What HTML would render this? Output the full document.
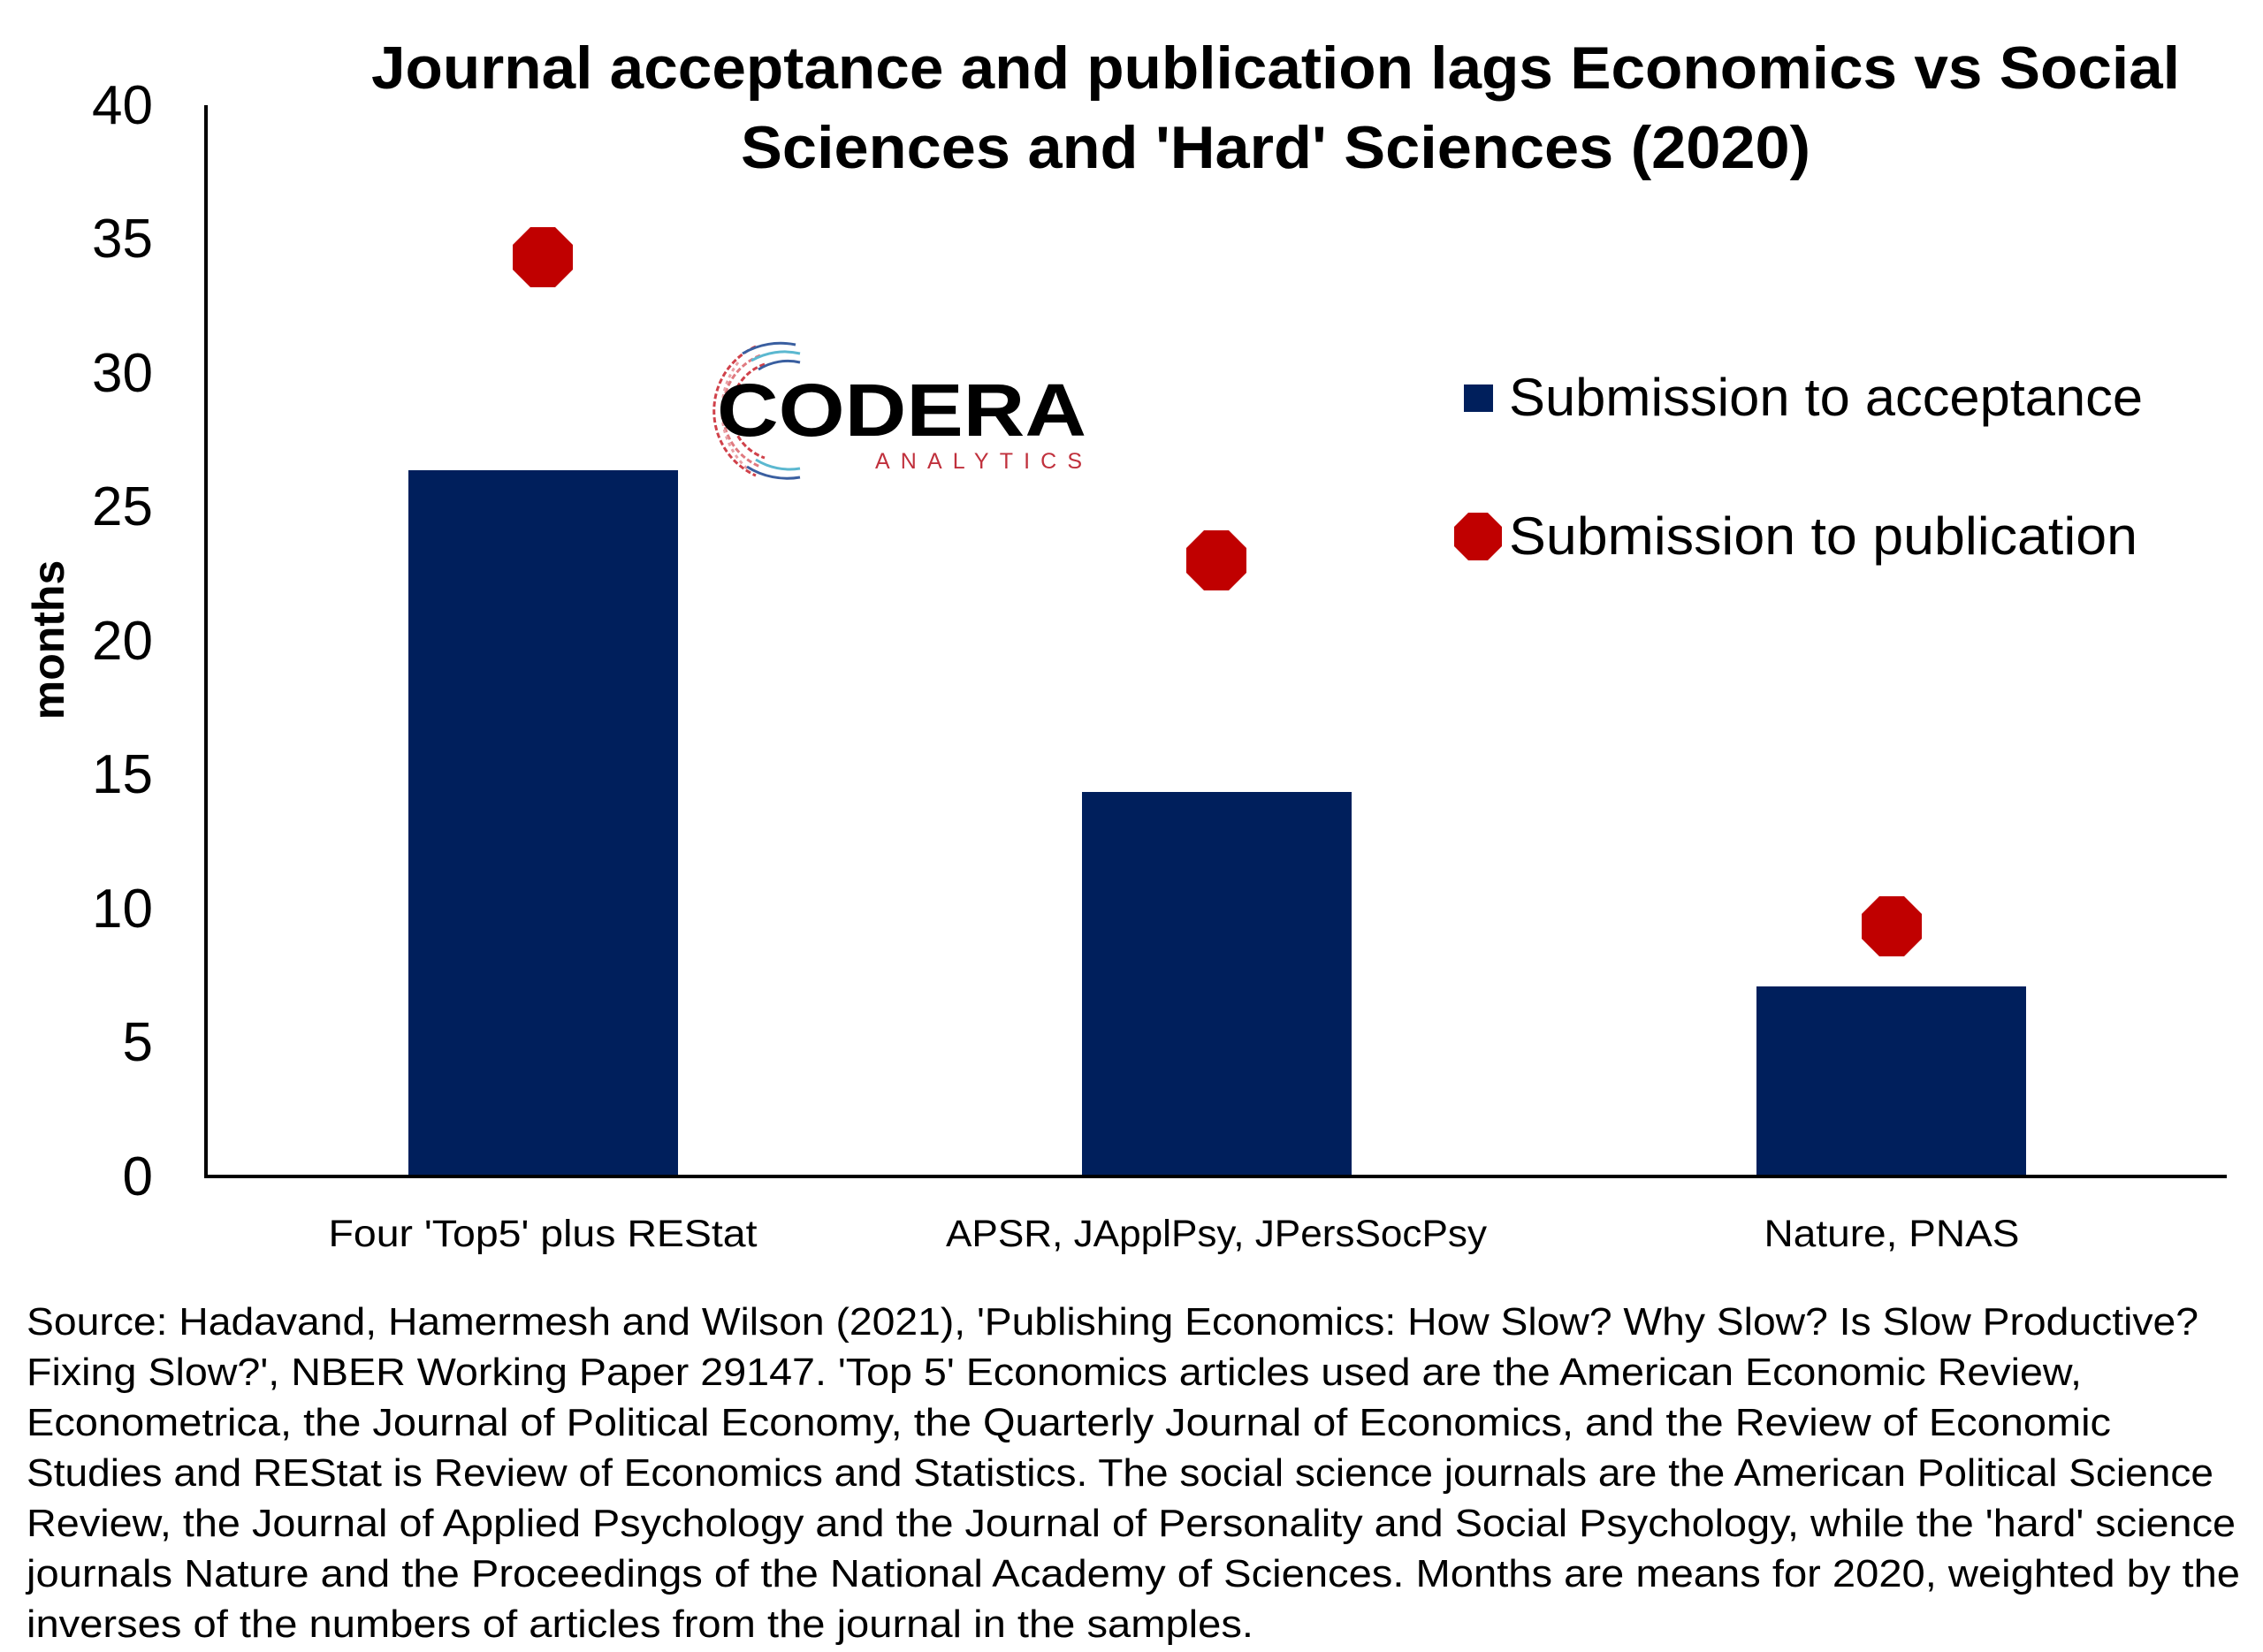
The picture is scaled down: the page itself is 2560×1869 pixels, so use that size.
<!DOCTYPE html>
<html><head><meta charset="utf-8"><style>
html,body{margin:0;padding:0;background:#fff;}
svg{display:block;font-family:"Liberation Sans",sans-serif;}
</style></head><body>
<svg width="2560" height="1869" viewBox="0 0 2560 1869" xmlns="http://www.w3.org/2000/svg">
<rect width="2560" height="1869" fill="#fff"/>
<g font-weight="bold" font-size="68" fill="#000" text-anchor="middle">
<text x="1443" y="100" textLength="2046" lengthAdjust="spacingAndGlyphs">Journal acceptance and publication lags Economics vs Social</text>
<text x="1443" y="190" textLength="1210" lengthAdjust="spacingAndGlyphs">Sciences and 'Hard' Sciences (2020)</text>
</g>
<g font-size="62" fill="#000" text-anchor="end">
<text x="173" y="140">40</text>
<text x="173" y="291">35</text>
<text x="173" y="443">30</text>
<text x="173" y="594">25</text>
<text x="173" y="746">20</text>
<text x="173" y="897">15</text>
<text x="173" y="1049">10</text>
<text x="173" y="1200">5</text>
<text x="173" y="1352">0</text>
</g>
<text transform="translate(72,724) rotate(-90)" font-size="50" font-weight="bold" text-anchor="middle">months</text>
<g fill="#001f5c">
<rect x="462" y="532" width="305" height="799"/>
<rect x="1224" y="896" width="305" height="435"/>
<rect x="1987" y="1116" width="305" height="215"/>
</g>
<line x1="233" y1="119" x2="233" y2="1333" stroke="#000" stroke-width="4"/>
<line x1="231" y1="1331" x2="2519" y2="1331" stroke="#000" stroke-width="4"/>
<g fill="#c00000">
<polygon points="600,257 628,257 648,277 648,305 628,325 600,325 580,305 580,277"/>
<polygon points="1362,600 1390,600 1410,620 1410,648 1390,668 1362,668 1342,648 1342,620"/>
<polygon points="2126,1014 2154,1014 2174,1034 2174,1062 2154,1082 2126,1082 2106,1062 2106,1034"/>
<polygon points="1661,580 1683,580 1699,596 1699,618 1683,634 1661,634 1645,618 1645,596"/>
</g>
<g font-size="43" fill="#000" text-anchor="middle">
<text x="614" y="1410" textLength="485" lengthAdjust="spacingAndGlyphs">Four 'Top5' plus REStat</text>
<text x="1376" y="1410" textLength="612" lengthAdjust="spacingAndGlyphs">APSR, JApplPsy, JPersSocPsy</text>
<text x="2140" y="1410" textLength="289" lengthAdjust="spacingAndGlyphs">Nature, PNAS</text>
</g>
<rect x="1656" y="435" width="33" height="31" fill="#001f5c"/>
<g font-size="60" fill="#000">
<text x="1707" y="470" textLength="717" lengthAdjust="spacingAndGlyphs">Submission to acceptance</text>
<text x="1707" y="627" textLength="711" lengthAdjust="spacingAndGlyphs">Submission to publication</text>
</g>
<g fill="none" stroke-width="3">
<path d="M 855 392 A 80 80 0 0 0 855 538" stroke="#d0414a" stroke-dasharray="6 3"/>
<path d="M 860 402 A 68 68 0 0 0 860 528" stroke="#e07a80" stroke-dasharray="6 3"/>
<path d="M 865 412 A 56 56 0 0 0 865 518" stroke="#d0414a" stroke-dasharray="6 3"/>
<path d="M 835 410 A 90 90 0 0 0 845 530" stroke="#e8a0a5" stroke-dasharray="4 4"/>
<path d="M 840 400 A 85 85 0 0 1 900 390" stroke="#3a5fa0"/>
<path d="M 850 408 A 75 75 0 0 1 905 400" stroke="#5bb8d0"/>
<path d="M 858 418 A 62 62 0 0 1 905 410" stroke="#3a5fa0"/>
<path d="M 845 528 A 85 85 0 0 0 905 540" stroke="#3a5fa0"/>
<path d="M 855 520 A 72 72 0 0 0 905 530" stroke="#5bb8d0"/>
</g>
<text x="811" y="493" font-size="84" font-weight="bold" fill="#000" textLength="418" lengthAdjust="spacingAndGlyphs">CODERA</text>
<text x="990" y="530" font-size="25" fill="#c0303c" textLength="244" lengthAdjust="spacing" letter-spacing="10">ANALYTICS</text>
<g font-size="44" fill="#000">
<text x="30" y="1510" textLength="2457" lengthAdjust="spacingAndGlyphs">Source: Hadavand, Hamermesh and Wilson (2021), 'Publishing Economics: How Slow? Why Slow? Is Slow Productive?</text>
<text x="30" y="1567" textLength="2325" lengthAdjust="spacingAndGlyphs">Fixing Slow?', NBER Working Paper 29147. 'Top 5' Economics articles used are the American Economic Review,</text>
<text x="30" y="1624" textLength="2358" lengthAdjust="spacingAndGlyphs">Econometrica, the Journal of Political Economy, the Quarterly Journal of Economics, and the Review of Economic</text>
<text x="30" y="1681" textLength="2474" lengthAdjust="spacingAndGlyphs">Studies and REStat is Review of Economics and Statistics. The social science journals are the American Political Science</text>
<text x="30" y="1738" textLength="2499" lengthAdjust="spacingAndGlyphs">Review, the Journal of Applied Psychology and the Journal of Personality and Social Psychology, while the 'hard' science</text>
<text x="30" y="1795" textLength="2504" lengthAdjust="spacingAndGlyphs">journals Nature and the Proceedings of the National Academy of Sciences. Months are means for 2020, weighted by the</text>
<text x="30" y="1852" textLength="1388" lengthAdjust="spacingAndGlyphs">inverses of the numbers of articles from the journal in the samples.</text>
</g>
</svg>
</body></html>
